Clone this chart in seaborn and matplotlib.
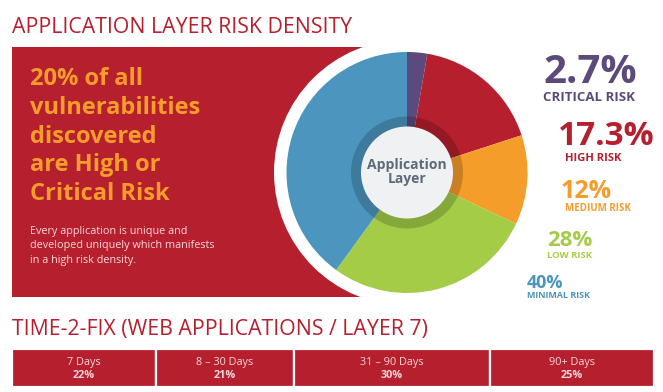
import numpy as np
import matplotlib
matplotlib.use("Agg")
import matplotlib.pyplot as plt
import matplotlib.patches as mpatches
import seaborn as sns

# ---- data ----
risk_labels = ["CRITICAL RISK", "HIGH RISK", "MEDIUM RISK", "LOW RISK", "MINIMAL RISK"]
risk_values = [2.7, 17.3, 12, 28, 40]
risk_pct_text = ["2.7%", "17.3%", "12%", "28%", "40%"]
fix_labels = ["7 Days", "8 – 30 Days", "31 – 90 Days", "90+ Days"]
fix_values = [22, 21, 30, 25]

sns.set_theme(style="white")
plt.rcParams['font.family'] = ['Open Sans', 'DejaVu Sans']

risk_colors = sns.color_palette(["#5b4a7b", "#b51f2e", "#f59d2b", "#a4cc47", "#4b95bf"])
RED = "#b51f2e"
ORANGE = "#f59d2b"
PINK = "#f6d6d9"

W, H = 663, 392
fig = plt.figure(figsize=(W / 100, H / 100), dpi=100)
fig.patch.set_facecolor("white")

bg = fig.add_axes([0, 0, 1, 1])
bg.set_xlim(0, W)
bg.set_ylim(H, 0)
bg.axis("off")

# titles
bg.text(12, 33, "APPLICATION LAYER RISK DENSITY", color=RED, fontsize=15.3,
        ha="left", va="baseline")
bg.text(12, 335, "TIME-2-FIX (WEB APPLICATIONS / LAYER 7)", color=RED, fontsize=15.3,
        ha="left", va="baseline")

# red panel
bg.add_patch(mpatches.Rectangle((12, 47), 395, 250, color=RED, lw=0, zorder=1))

# left text
big_lines = ["20% of all", "vulnerabilities", "discovered", "are High or", "Critical Risk"]
for i, line in enumerate(big_lines):
    bg.text(30, 85 + i * 28.8, line, color=ORANGE, fontsize=17, fontweight="bold",
            ha="left", va="baseline", zorder=3)
small_lines = ["Every application is unique and", "developed uniquely which manifests",
               "in a high risk density."]
for i, line in enumerate(small_lines):
    bg.text(30, 234 + i * 14.3, line, color=PINK, fontsize=7.8,
            ha="left", va="baseline", zorder=3)

# right legend texts
pos = [(543, 83, 543, 101, 29, 9.5),
       (558, 145, 565, 161, 24, 8),
       (560, 198, 565, 211, 18, 7),
       (547, 246, 547, 257.5, 16, 6.8),
       (527, 288, 527, 298, 13, 6.5)]
for (px, py, lx, ly, fs1, fs2), pct, lab, col in zip(pos, risk_pct_text, risk_labels, risk_colors):
    bg.text(px, py, pct, color=col, fontsize=fs1, fontweight="bold", ha="left", va="baseline")
    bg.text(lx, ly, lab, color=col, fontsize=fs2, fontweight="bold", ha="left", va="baseline")

# pie
cx, cy, R, RW = 407, 172.5, 120.5, 133
pax = fig.add_axes([(cx - RW) / W, (H - cy - RW) / H, 2 * RW / W, 2 * RW / H])
pax.set_xlim(-RW, RW)
pax.set_ylim(-RW, RW)
pax.set_aspect("equal")
pax.axis("off")
pax.add_patch(mpatches.Circle((0, 0), RW, color="white", lw=0, zorder=0))
pax.pie(risk_values, colors=risk_colors, radius=R, startangle=90, counterclock=False,
        wedgeprops=dict(linewidth=0), center=(0, 0))
pax.set_xlim(-RW, RW)
pax.set_ylim(-RW, RW)
pax.add_patch(mpatches.Circle((0, 0), 56, color="black", alpha=0.18, lw=0, zorder=5))
pax.add_patch(mpatches.Circle((0, 0), 46, color="#f0f1f3", lw=0, zorder=6))
pax.text(0, 4, "Application", color="#5e6a78", fontsize=10, fontweight="bold",
         ha="center", va="baseline", zorder=7)
pax.text(0, -11, "Layer", color="#5e6a78", fontsize=10, fontweight="bold",
         ha="center", va="baseline", zorder=7)

# time-2-fix stacked bar
bax = fig.add_axes([12 / W, (H - 387) / H, (654 - 12) / W, (387 - 349) / H])
lefts = np.concatenate([[0], np.cumsum(fix_values)[:-1]])
bax.barh([0] * len(fix_values), fix_values, left=lefts, height=1.0, color=RED,
         edgecolor="white", linewidth=1.6)
bax.set_xlim(0, sum(fix_values))
bax.set_ylim(0.5, -0.5)
bax.axis("off")
for l, v, lab in zip(lefts, fix_values, fix_labels):
    bax.text(l + v / 2, -0.15, lab, color=PINK, fontsize=7.8, ha="center", va="center")
    bax.text(l + v / 2, 0.2, f"{v}%", color=PINK, fontsize=7.8, fontweight="bold",
             ha="center", va="center")

fig.savefig("out.png", dpi=100)
